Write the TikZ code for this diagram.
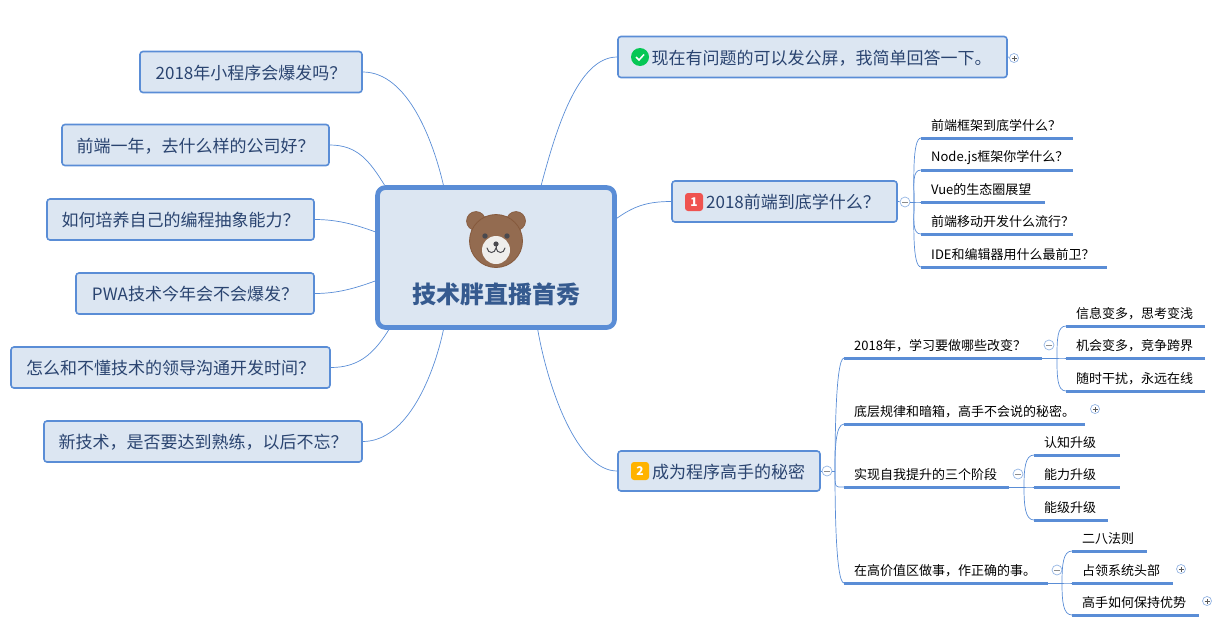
\documentclass[tikz,border=0pt]{standalone}
\usepackage{fontspec}
\setmainfont{Noto Sans CJK SC}
\definecolor{mapline}{HTML}{5A8DD6}
\definecolor{mapfill}{HTML}{DCE6F2}
\definecolor{maptext}{HTML}{2A4470}
\definecolor{titletext}{HTML}{355A8F}
\definecolor{bearfur}{HTML}{936B50}
\definecolor{beardark}{HTML}{85593C}
\definecolor{bearface}{HTML}{EFEEEC}
\definecolor{beareye}{HTML}{4A4A4F}
\definecolor{okgreen}{HTML}{06C755}
\definecolor{onered}{HTML}{EF5350}
\definecolor{twoamber}{HTML}{FFB300}
\tikzset{
  topicbox/.style={draw=mapline,line width=1.6pt,rounded corners=3pt,fill=mapfill,text=maptext,inner sep=0pt,text height=16.5pt,text depth=2pt,font=\fontsize{17}{20}\selectfont},
  leafnode/.style={anchor=south west,inner xsep=10pt,inner ysep=0pt,minimum height=24pt,font=\fontsize{13}{16}\selectfont,align=left},
  leafline/.style={draw=mapline,line width=3pt},
  branch/.style={draw=mapline,line width=0.7pt},
  subbranch/.style={branch,in=180,in distance=9pt,out distance=18pt},
  togglebase/.style={circle,draw=mapline!65,line width=0.7pt,fill=white,inner sep=0pt,minimum size=#1},
  collapsed/.style={togglebase=9pt,path picture={\draw[black!65,line width=0.6pt] ([xshift=-2.5pt]path picture bounding box.center) -- ([xshift=2.5pt]path picture bounding box.center) ([yshift=-2.5pt]path picture bounding box.center) -- ([yshift=2.5pt]path picture bounding box.center);}},
  expanded/.style={togglebase=10pt,path picture={\draw[black!45,line width=0.6pt] ([xshift=-3pt]path picture bounding box.center) -- ([xshift=3pt]path picture bounding box.center);}},
  badge/.style={rounded corners=3pt,minimum size=18pt,inner sep=0pt,text=white,font=\bfseries\fontsize{12}{12}\selectfont}
}
\begin{document}
\begin{tikzpicture}[x=1pt,y=1pt]
\useasboundingbox (0,0) rectangle (1226,-627);
% central topic
\node[draw=mapline,line width=4.7pt,rounded corners=8pt,fill=mapfill,minimum width=237pt,minimum height=140pt] (root) at (496,-257.5) {};
\node[text=titletext,font=\bfseries\fontsize{24}{28}\selectfont] (title) at (496,-294) {技术胖直播首秀};
% bear
\draw[beardark,fill=bearfur,line width=0.6pt] (476,-221) circle (9.5) (516,-221) circle (9.5);
\draw[beardark,fill=bearfur,line width=0.8pt] (496,-241) circle (26.5);
\fill[bearface] (496,-250) circle (14);
\fill[beareye] (485,-236) circle (2.7) (507,-236) circle (2.7) (496,-244) circle (2.6);
\draw[beareye,line width=1pt,line cap=round] (487,-248) .. controls (488,-254) and (495,-254) .. (496,-248) .. controls (497,-254) and (504,-254) .. (505,-248);
\draw[beareye,line width=1pt] (496,-244) -- (496,-249);
% left topics
\foreach \nm/\cx/\cy/\bw/\ang/\inang/\dist/\txt in {
  qa/251/-72/222/126/103/45/2018年小程序会爆发吗？,
  qb/195.5/-145/267/147/122/28/前端一年，去什么样的公司好？,
  qc/180.5/-219.5/267/168/160/22/如何培养自己的编程抽象能力？,
  qd/195/-293.5/238/191/200/22/PWA技术今年会不会爆发？,
  qe/170.5/-367.5/319/214/238/28/怎么和不懂技术的领导沟通开发时间？,
  qf/203/-441.5/318/234/258/45/新技术，是否要达到熟练，以后不忘？} {
  \node[topicbox,minimum width=\bw pt,minimum height=41pt] (\nm) at (\cx,\cy) {\txt};
  \draw[branch] (\nm.east) to[out=0,in=\inang,in distance=\dist pt,out distance=\dist pt] (root.\ang);
}
% right topics
\node[topicbox,minimum width=389pt,minimum height=41pt] (ask) at (812.5,-57) {\hspace*{18pt}现在有问题的可以发公屏，我简单回答一下。};
\node[topicbox,minimum width=225pt,minimum height=41pt] (learn) at (784.5,-201.5) {\hspace*{17pt}2018前端到底学什么？};
\node[topicbox,minimum width=202pt,minimum height=40pt] (master) at (719,-471) {\hspace*{19pt}成为程序高手的秘密};
\node[circle,fill=okgreen,minimum size=18pt,inner sep=0pt,
  path picture={\draw[white,line width=1.5pt] ([shift={(-4pt,0pt)}]path picture bounding box.center) -- ([shift={(-1pt,-3pt)}]path picture bounding box.center) -- ([shift={(4pt,2.5pt)}]path picture bounding box.center);}] (okmark) at (640,-57) {};
\node[badge,fill=onered] (onemark) at (694,-202) {1};
\node[badge,fill=twoamber] (twomark) at (640,-471) {2};
\draw[branch] (ask.west) to[out=180,in=75,out distance=40pt,in distance=55pt] (root.58);
\draw[branch] (learn.west) to[out=180,in=35,out distance=25pt,in distance=20pt] (root.18);
\draw[branch] (master.west) to[out=180,in=-80,out distance=40pt,in distance=60pt] (root.300);
% leaf nodes
\foreach \nm/\xa/\xb/\yy/\txt in {
  la/921/1073/-138/前端框架到底学什么？,
  lb/921/1073/-170/Node.js框架你学什么？,
  lc/921/1045/-202/Vue的生态圈展望,
  ld/921/1073/-234/前端移动开发什么流行？,
  le/921/1107/-267/IDE和编辑器用什么最前卫？,
  ma/844/1042/-358/2018年，学习要做哪些改变？,
  mb/844/1085/-424/底层规律和暗箱，高手不会说的秘密。,
  mc/844/1009/-487/实现自我提升的三个阶段,
  md/844/1048/-583/在高价值区做事，作正确的事。,
  na/1066/1205/-326/信息变多，思考变浅,
  nb/1066/1205/-358/机会变多，竞争跨界,
  nc/1066/1205/-391/随时干扰，永远在线,
  oa/1034/1120/-455/认知升级,
  ob/1034/1120/-487/能力升级,
  oc/1034/1108/-520/能级升级,
  pa/1072/1147/-551/二八法则,
  pb/1072/1173/-583/占领系统头部,
  pc/1072/1199/-615/高手如何保持优势} {
  \pgfmathsetmacro\lw{\xb-\xa-20}
  \node[leafnode,text width=\lw pt] (\nm) at (\xa,\yy) {\txt};
  \draw[leafline] (\nm.south west) -- (\nm.south east);
}
% toggles
\node[collapsed] (asktog) at (1014,-58) {};
\node[expanded] (learntog) at (905,-202) {};
\node[expanded] (mastertog) at (827,-471) {};
\node[expanded] (matog) at (1049,-345) {};
\node[collapsed] (mbtog) at (1095,-409) {};
\node[expanded] (mctog) at (1018,-474) {};
\node[expanded] (mdtog) at (1057,-570) {};
\node[collapsed] (pbtog) at (1181,-569) {};
\node[collapsed] (pctog) at (1207,-601) {};
\coordinate (learnjct) at (914,-202);
\coordinate (masterjct) at (835,-471);
\coordinate (majct) at (1057,-358);
\coordinate (mcjct) at (1024,-487);
\coordinate (mdjct) at (1062,-583);
\draw[branch] (ask.east) -- (asktog);
\draw[branch] (learn.east) -- (learntog);
\draw[branch] (learntog) -- (learnjct);
\draw[branch] (master.east) -- (mastertog);
\draw[branch] (mastertog) -- (masterjct);
\draw[branch] (ma.south east) -- (majct);
\draw[branch] (mc.south east) -- (mcjct);
\draw[branch] (md.south east) -- (mdjct);
% branches
\foreach \jc/\nm/\ang in {learnjct/la/90,learnjct/lb/90,learnjct/lc/0,learnjct/ld/-90,learnjct/le/-90,
  masterjct/ma/90,masterjct/mb/90,masterjct/mc/-90,masterjct/md/-90,
  majct/na/90,majct/nb/0,majct/nc/-90,
  mcjct/oa/90,mcjct/ob/0,mcjct/oc/-90,
  mdjct/pa/90,mdjct/pb/0,mdjct/pc/-90} {
  \draw[subbranch] (\jc) to[out=\ang] (\nm.south west);
}
\end{tikzpicture}
\end{document}
